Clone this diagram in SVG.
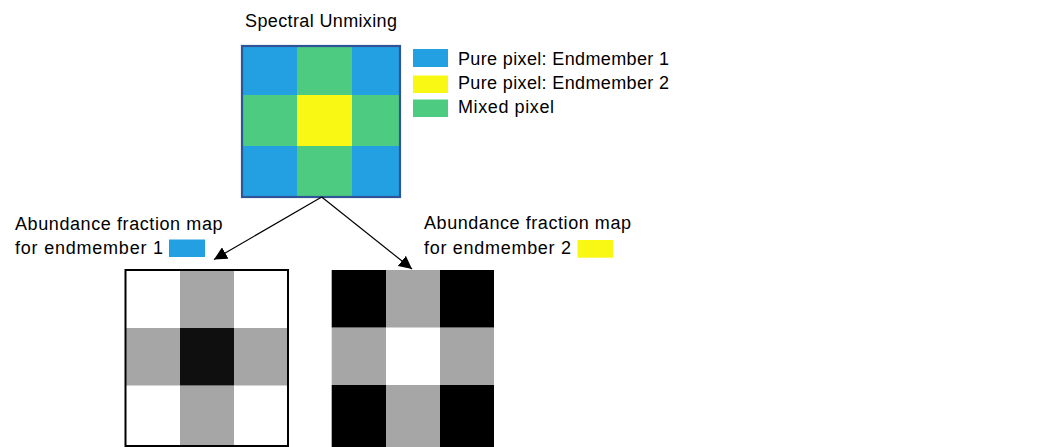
<svg xmlns="http://www.w3.org/2000/svg" width="1037" height="447" viewBox="0 0 1037 447">
<defs>
<style>
text{font-family:"Liberation Sans",Arial,sans-serif;font-size:18px;fill:#000}
.blue{fill:#23A0E2}.green{fill:#4DCB80}.yellow{fill:#F8F814}
.gray{fill:#A6A6A6}.blk{fill:#000}.dk{fill:#0F0F0F}.wht{fill:#fff}
.conn{stroke:#000;stroke-width:1.2;fill:none}
</style>
<marker id="ah" viewBox="0 0 10 10" refX="10" refY="5" markerUnits="userSpaceOnUse" markerWidth="13" markerHeight="13" orient="auto">
<path d="M0,0 L10,5 L0,10 z" fill="#000"/>
</marker>
</defs>
<rect width="1037" height="447" fill="#fff"/>

<g id="title"><text x="245" y="27" textLength="152">Spectral Unmixing</text></g>

<g id="mixed-grid">
<rect class="blue" x="242" y="46" width="55" height="49"/>
<rect class="green" x="297" y="46" width="55" height="49"/>
<rect class="blue" x="352" y="46" width="48" height="49"/>
<rect class="green" x="242" y="95" width="55" height="51"/>
<rect class="yellow" x="297" y="95" width="55" height="51"/>
<rect class="green" x="352" y="95" width="48" height="51"/>
<rect class="blue" x="242" y="146" width="55" height="51"/>
<rect class="green" x="297" y="146" width="55" height="51"/>
<rect class="blue" x="352" y="146" width="48" height="51"/>
<rect x="242" y="46" width="158" height="151" fill="none" stroke="#2F5597" stroke-width="2.2"/>
</g>

<g id="legend">
<rect class="blue" x="413" y="49" width="35" height="18"/>
<rect class="yellow" x="413" y="75.5" width="35" height="17.5"/>
<rect class="green" x="413" y="99.5" width="35" height="17.5"/>
<text x="458" y="65" textLength="211">Pure pixel: Endmember 1</text>
<text x="458" y="88.5" textLength="211">Pure pixel: Endmember 2</text>
<text x="458" y="113" textLength="96">Mixed pixel</text>
</g>

<g id="map1">
<text x="15" y="230" textLength="207.5">Abundance fraction map</text>
<text x="15" y="254" textLength="148">for endmember 1</text>
<rect class="blue" x="169" y="239.5" width="36" height="17.5"/>
<rect class="wht" x="125.5" y="269.5" width="54.5" height="58.5"/>
<rect class="gray" x="180" y="269.5" width="54" height="58.5"/>
<rect class="wht" x="234" y="269.5" width="54" height="58.5"/>
<rect class="gray" x="125.5" y="328" width="54.5" height="57.7"/>
<rect class="dk" x="180" y="328" width="54" height="57.7"/>
<rect class="gray" x="234" y="328" width="54" height="57.7"/>
<rect class="wht" x="125.5" y="385.7" width="54.5" height="61.3"/>
<rect class="gray" x="180" y="385.7" width="54" height="61.3"/>
<rect class="wht" x="234" y="385.7" width="54" height="61.3"/>
<rect x="125.5" y="270" width="162.5" height="176" fill="none" stroke="#000" stroke-width="2"/>
</g>

<g id="map2">
<text x="424" y="229" textLength="207">Abundance fraction map</text>
<text x="424" y="253.5" textLength="147">for endmember 2</text>
<rect class="yellow" x="577.5" y="240" width="35.5" height="17.7"/>
<rect class="blk" x="331.7" y="270" width="54.3" height="57.7"/>
<rect class="gray" x="386" y="270" width="54" height="57.7"/>
<rect class="blk" x="440" y="270" width="54" height="57.7"/>
<rect class="gray" x="331.7" y="327.7" width="54.3" height="57.3"/>
<rect class="wht" x="386" y="327.7" width="54" height="57.3"/>
<rect class="gray" x="440" y="327.7" width="54" height="57.3"/>
<rect class="blk" x="331.7" y="385" width="54.3" height="62"/>
<rect class="gray" x="386" y="385" width="54" height="62"/>
<rect class="blk" x="440" y="385" width="54" height="62"/>
</g>

<g id="connectors">
<line class="conn" x1="321.7" y1="197" x2="214" y2="259.5" marker-end="url(#ah)"/>
<line class="conn" x1="321.7" y1="197" x2="412" y2="269" marker-end="url(#ah)"/>
</g>
</svg>
